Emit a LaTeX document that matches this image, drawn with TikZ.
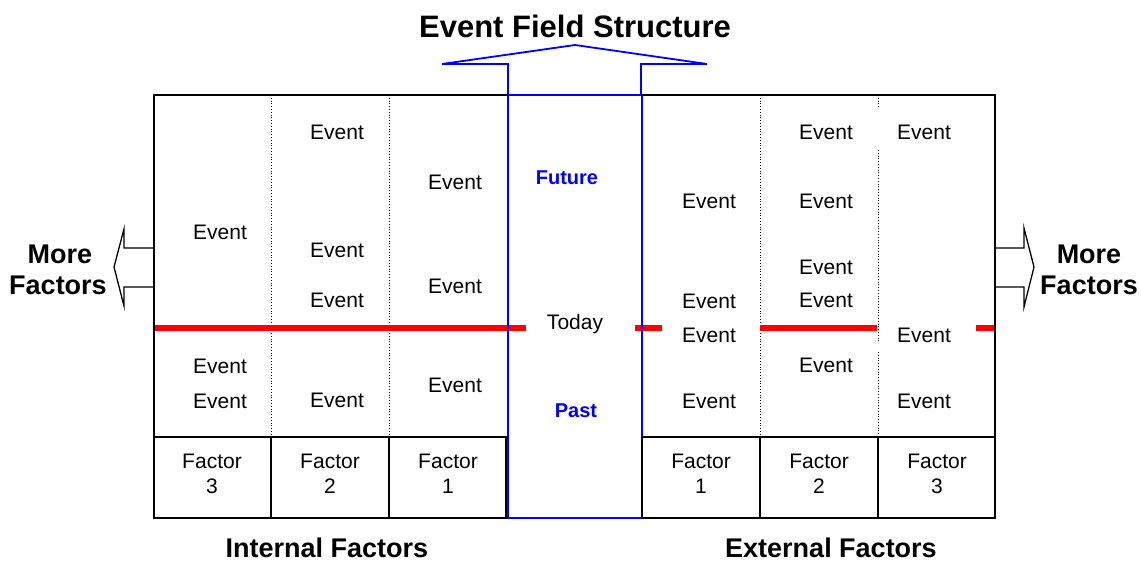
\documentclass[tikz,border=0pt]{standalone}
\usepackage{fontspec}
\setmainfont{Liberation Sans}
\begin{document}
\begin{tikzpicture}[x=1pt,y=-1pt,
  ev/.style={font=\fontsize{21}{21}\selectfont, inner sep=0pt, text height=15pt, text depth=0pt, anchor=center},
  bl/.style={font=\fontsize{27}{27}\selectfont\bfseries, inner sep=0pt, text height=19.3pt, text depth=0pt, anchor=center},
  ttl/.style={font=\fontsize{31}{31}\selectfont\bfseries, inner sep=0pt, text height=22.2pt, text depth=0pt, anchor=center},
  tm/.style={font=\fontsize{20}{20}\selectfont\bfseries, text=blue, inner sep=0pt, text height=14.3pt, text depth=0pt, anchor=center},
  boxl/.style={draw=black, line width=2.8pt, line cap=rect},
  bluel/.style={draw=blue, line width=1.8pt},
  dotl/.style={draw=black, line width=0.8pt, dotted},
  redl/.style={draw=red, line width=6pt},
  arr/.style={draw=black, line width=1.3pt, line join=miter}
]
\useasboundingbox (0,0) rectangle (1141,563);
% dotted dividers
\draw[dotl] (271,95) -- (271,437);
\draw[dotl] (389,95) -- (389,437);
\draw[dotl] (760,95) -- (760,437);
\draw[dotl] (878,95) -- (878,108);
\draw[dotl] (878,150) -- (878,343);
\draw[dotl] (878,352) -- (878,437);
% today line
\draw[redl] (154,328) -- (526,328);
\draw[redl] (635,328) -- (662,328);
\draw[redl] (760,328) -- (877,328);
\draw[redl] (976,328) -- (995,328);
% blue centre column and top arrow
\draw[bluel] (508,95) -- (508,518) -- (642,518);
\draw[bluel] (508,95) -- (642,95) -- (642,437);
\draw[bluel] (508,95) -- (508,64) -- (442,64) -- (575,45) -- (707,64) -- (641,64) -- (641,95);
% outer box
\draw[boxl] (507,95) -- (154,95) -- (154,518) -- (507,518);
\draw[boxl] (642,95) -- (995,95) -- (995,518) -- (642,518);
\draw[boxl] (154,437) -- (507,437);
\draw[boxl] (642,437) -- (995,437);
\foreach \xx in {271,389,506,642,760,878} \draw[boxl] (\xx,437) -- (\xx,518);
% side arrows
\draw[arr] (154,248) -- (124,248) -- (124,229) -- (114,267) -- (124,306) -- (124,287) -- (154,287);
\draw[arr] (995,248) -- (1024,248) -- (1024,228) -- (1034,267) -- (1024,307) -- (1024,287) -- (995,287);
% title and labels
\node[ttl] (title) at (575,26) {Event Field Structure};
\node[bl] (lmore) at (60,254) {More};
\node[bl] (lfac) at (58,285) {Factors};
\node[bl] (rmore) at (1089,254) {More};
\node[bl] (rfac) at (1089,285) {Factors};
\node[bl] (intf) at (327,548) {Internal Factors};
\node[bl] (extf) at (831,548) {External Factors};
% centre column
\node[tm] (future) at (567,177) {Future};
\node[ev] (today) at (575,322) {Today};
\node[tm] (past) at (576,410) {Past};
% factor labels
\foreach \xx/\nn/\id in {212/3/a,330/2/b,448/1/c,701/1/d,819/2/e,937/3/f}{
  \node[ev] (fac\id) at (\xx,461) {Factor};
  \node[ev] (num\id) at (\xx,486) {\nn};
}
% events, internal
\node[ev] (ea1) at (220,232) {Event};
\node[ev] (ea2) at (220,366) {Event};
\node[ev] (ea3) at (220,401) {Event};
\node[ev] (eb1) at (337,132) {Event};
\node[ev] (eb2) at (337,250) {Event};
\node[ev] (eb3) at (337,300) {Event};
\node[ev] (eb4) at (337,400) {Event};
\node[ev] (ec1) at (455,182) {Event};
\node[ev] (ec2) at (455,286) {Event};
\node[ev] (ec3) at (455,385) {Event};
% events, external
\node[ev] (ed1) at (709,201) {Event};
\node[ev] (ed2) at (709,301) {Event};
\node[ev] (ed3) at (709,335) {Event};
\node[ev] (ed4) at (709,401) {Event};
\node[ev] (ee1) at (826,132) {Event};
\node[ev] (ee2) at (826,201) {Event};
\node[ev] (ee3) at (826,267) {Event};
\node[ev] (ee4) at (826,300) {Event};
\node[ev] (ee5) at (826,365) {Event};
\node[ev] (ef1) at (924,132) {Event};
\node[ev] (ef2) at (924,335) {Event};
\node[ev] (ef3) at (924,401) {Event};
\end{tikzpicture}
\end{document}
